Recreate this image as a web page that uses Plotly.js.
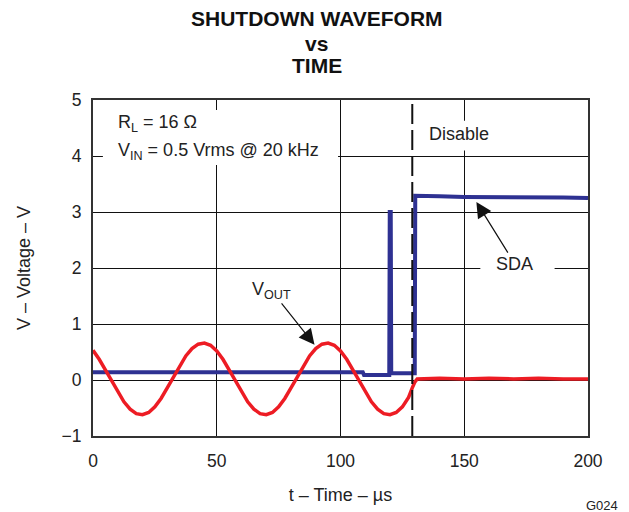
<!DOCTYPE html>
<html>
<head>
<meta charset="utf-8">
<script src="https://cdn.plot.ly/plotly-3.0.1.min.js"></script>
<style>html,body{margin:0;padding:0;background:#fff;}#chart{width:629px;height:512px;}</style>
</head>
<body>
<div id="chart"></div>
<script>
// ---- Data ----
const xTicks = [0, 50, 100, 150, 200];
const yTicks = [-1, 0, 1, 2, 3, 4, 5];
const titleLines = ['SHUTDOWN WAVEFORM', 'vs', 'TIME'];

// VOUT (red) – time in µs, voltage in V
const voutTime = [
  0, 2.5, 5, 7.5, 10, 12.5, 15, 17.5, 20, 22.5, 25, 27.5, 30, 32.5, 35, 37.5, 40, 42.5, 45, 47.5,
  50, 52.5, 55, 57.5, 60, 62.5, 65, 67.5, 70, 72.5, 75, 77.5, 80, 82.5, 85, 87.5, 90, 92.5, 95, 97.5,
  100, 102.5, 105, 107.5, 110, 112.5, 115, 117.5, 120, 122.5, 125, 127.5, 129, 130, 131, 140, 150, 160, 170, 180, 190, 200
];
const voutVolt = [
  0.53, 0.37, 0.18, -0.02, -0.22, -0.39, -0.52, -0.60, -0.62, -0.58, -0.48, -0.33, -0.14, 0.06, 0.26, 0.43, 0.56, 0.64, 0.66, 0.62,
  0.52, 0.37, 0.18, -0.02, -0.22, -0.39, -0.52, -0.60, -0.62, -0.58, -0.48, -0.33, -0.14, 0.06, 0.26, 0.43, 0.56, 0.64, 0.66, 0.62,
  0.52, 0.37, 0.18, -0.02, -0.22, -0.39, -0.52, -0.60, -0.62, -0.58, -0.48, -0.31, -0.14, -0.04, 0.02, 0.03, 0.02, 0.03, 0.02, 0.03, 0.02, 0.02
];

// SDA (blue)
const sdaTime = [0, 109, 109.5, 119.7, 119.9, 120.3, 120.5, 130, 130.2, 132, 140, 150, 160, 170, 180, 190, 200];
const sdaVolt = [0.14, 0.14, 0.09, 0.09, 3.0, 3.0, 0.12, 0.12, 3.29, 3.29, 3.28, 3.27, 3.27, 3.26, 3.26, 3.26, 3.25];

const disableTime = [129];

// ---- Styling ----
const FONT = 'Liberation Sans, Arial, Helvetica, sans-serif';
const BLUE = '#2e3192';
const RED = '#ed1c24';
const TXT = '#222';

const traces = [
  {x: sdaTime, y: sdaVolt, type: 'scatter', mode: 'lines', line: {color: BLUE, width: 4}, hoverinfo: 'skip'},
  {x: voutTime, y: voutVolt, type: 'scatter', mode: 'lines', line: {color: RED, width: 3.5}, hoverinfo: 'skip'}
];

const shapes = [
  // white boxes masking the grid behind the text
  {type: 'rect', xref: 'x', yref: 'y', x0: 4, x1: 99, y0: 3.84, y1: 4.82, fillcolor: '#fff', line: {width: 0}, layer: 'between'},
  {type: 'rect', xref: 'x', yref: 'y', x0: 133, x1: 166, y0: 4.1, y1: 4.63, fillcolor: '#fff', line: {width: 0}, layer: 'between'},
  {type: 'rect', xref: 'x', yref: 'y', x0: 156.5, x1: 186.5, y0: 1.75, y1: 2.3, fillcolor: '#fff', line: {width: 0}, layer: 'between'},
  // disable line
  {type: 'line', xref: 'x', yref: 'paper', x0: disableTime[0], x1: disableTime[0], y0: 0, y1: 1,
   line: {color: '#111', width: 2, dash: '20px,6px'}, layer: 'above'}
];

const annFont = {family: FONT, size: 18, color: TXT};
const titleFont = {family: FONT, size: 21, color: '#111', weight: 'bold'};
const titleY = [1.2426, 1.1696, 1.1012];
const annotations = [
  ...titleLines.map((t, i) => ({xref: 'paper', yref: 'paper', x: 0.4525, y: titleY[i], text: t, showarrow: false,
    xanchor: 'center', yanchor: 'middle', font: titleFont})),
  {xref: 'x', yref: 'y', x: 9.3, y: 4.585, text: 'R<sub>L</sub> = 16 Ω', showarrow: false, xanchor: 'left', yanchor: 'middle', font: annFont},
  {xref: 'x', yref: 'y', x: 9.3, y: 4.085, text: 'V<sub>IN</sub> = 0.5 Vrms @ 20 kHz', showarrow: false, xanchor: 'left', yanchor: 'middle', font: annFont},
  {xref: 'x', yref: 'y', x: 135, y: 4.4, text: 'Disable', showarrow: false, xanchor: 'left', yanchor: 'middle', font: annFont},
  {xref: 'x', yref: 'y', axref: 'x', ayref: 'y', x: 154.9, y: 3.18, ax: 170.5, ay: 2.07, text: 'SDA', font: annFont,
   showarrow: true, arrowhead: 2, arrowsize: 2.6, arrowwidth: 1.2, arrowcolor: '#111'},
  {xref: 'x', yref: 'y', axref: 'x', ayref: 'y', x: 89.5, y: 0.63, ax: 72, ay: 1.6, text: 'V<sub>OUT</sub>', font: annFont,
   showarrow: true, arrowhead: 2, arrowsize: 2.6, arrowwidth: 1.2, arrowcolor: '#111'},
  {xref: 'paper', yref: 'paper', x: 1.0646, y: -0.2068, text: 'G024', showarrow: false, xanchor: 'right', yanchor: 'middle',
   font: {family: FONT, size: 13, color: TXT}}
];

const layout = {
  width: 629, height: 512,
  margin: {l: 93, r: 41, t: 100, b: 76, pad: 0},
  paper_bgcolor: '#fff', plot_bgcolor: '#fff',
  showlegend: false,
  font: {family: FONT, size: 17, color: TXT},
  xaxis: {
    range: [0, 200], tickvals: xTicks, ticktext: xTicks.map(String),
    showgrid: true, gridcolor: '#111', gridwidth: 1,
    zeroline: false, showline: true, mirror: true, linecolor: '#333', linewidth: 2,
    ticks: '', ticklabelstandoff: 8,
    tickfont: {family: FONT, size: 17.5, color: TXT},
    title: {text: 't – Time – µs', font: {family: FONT, size: 18, color: TXT}, standoff: 18}
  },
  yaxis: {
    range: [-1, 5], tickvals: yTicks, ticktext: yTicks.map(v => v < 0 ? '−' + Math.abs(v) : String(v)),
    showgrid: true, gridcolor: '#111', gridwidth: 1,
    zeroline: false, showline: true, mirror: true, linecolor: '#333', linewidth: 2,
    ticks: '', ticklabelstandoff: 6,
    tickfont: {family: FONT, size: 17.5, color: TXT},
    title: {text: 'V – Voltage – V', font: {family: FONT, size: 18, color: TXT}, standoff: 26}
  },
  shapes: shapes,
  annotations: annotations
};

Plotly.newPlot('chart', traces, layout, {displayModeBar: false, staticPlot: true});
</script>
</body>
</html>
